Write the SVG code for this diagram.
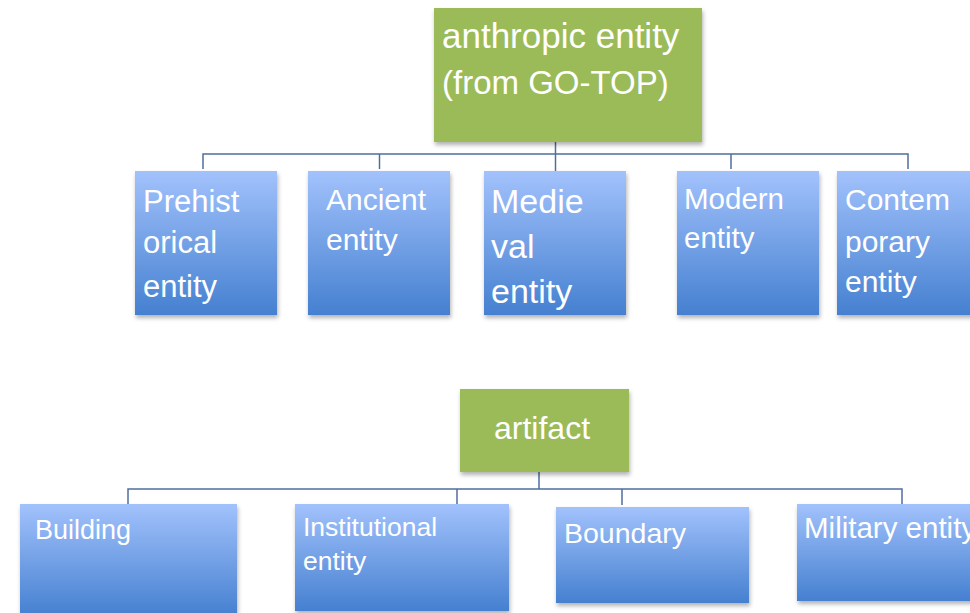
<svg xmlns="http://www.w3.org/2000/svg" width="970" height="613" viewBox="0 0 970 613">
<defs>
<linearGradient id="blue" x1="0" y1="0" x2="0" y2="1">
<stop offset="0" stop-color="#a2c2fc"/>
<stop offset="1" stop-color="#4580d0"/>
</linearGradient>
<filter id="sh" x="-10%" y="-10%" width="120%" height="130%">
<feDropShadow dx="1" dy="3" stdDeviation="2" flood-color="#000" flood-opacity="0.3"/>
</filter>
</defs>
<style>
.g{fill:#9bbb59;filter:url(#sh)}
.b{fill:url(#blue);filter:url(#sh)}
text{fill:#fff;font-family:"Liberation Sans",Arial,sans-serif}
.c{fill:none;stroke:#4f6f9f;stroke-width:1.5}
</style>
<g id="connectors">
<path class="c" d="M555.5 142V154M203 169V154H908V169M379.5 154V169M555.5 154V171M731 154V169"/>
<path class="c" d="M539 472V489M128 504V489H902V504M457 489V504M622 489V505"/>
</g>
<g id="anthropic">
<rect class="g" x="434" y="8" width="268" height="134"/>
<text x="442" y="48" font-size="35">anthropic entity</text>
<text x="442" y="94" font-size="33">(from GO-TOP)</text>
</g>
<g id="prehistorical">
<rect class="b" x="135" y="171" width="142" height="144"/>
<text x="143" y="212" font-size="31">Prehist</text>
<text x="143" y="253" font-size="31">orical</text>
<text x="143" y="297" font-size="31">entity</text>
</g>
<g id="ancient">
<rect class="b" x="308" y="171" width="142" height="144"/>
<text x="326" y="210" font-size="30">Ancient</text>
<text x="326" y="250" font-size="30">entity</text>
</g>
<g id="medieval">
<rect class="b" x="484" y="171" width="142" height="144"/>
<text x="491" y="213" font-size="34">Medie</text>
<text x="491" y="258" font-size="34">val</text>
<text x="491" y="303" font-size="34">entity</text>
</g>
<g id="modern">
<rect class="b" x="677" y="171" width="142" height="144"/>
<text x="684" y="209" font-size="29.5">Modern</text>
<text x="684" y="248" font-size="29.5">entity</text>
</g>
<g id="contemporary">
<rect class="b" x="837" y="171" width="142" height="144"/>
<text x="845" y="210" font-size="30">Contem</text>
<text x="845" y="252" font-size="30">porary</text>
<text x="845" y="292" font-size="30">entity</text>
</g>
<g id="artifact">
<rect class="g" x="460" y="389" width="169" height="83"/>
<text x="494" y="439" font-size="32">artifact</text>
</g>
<g id="building">
<rect class="b" x="20" y="504" width="217" height="112"/>
<text x="35" y="539" font-size="27">Building</text>
</g>
<g id="institutional">
<rect class="b" x="295" y="504" width="214" height="107"/>
<text x="303" y="536" font-size="26.5">Institutional</text>
<text x="303" y="570" font-size="26.5">entity</text>
</g>
<g id="boundary">
<rect class="b" x="556" y="507" width="193" height="96"/>
<text x="564" y="543" font-size="28.5">Boundary</text>
</g>
<g id="military">
<rect class="b" x="797" y="504" width="210" height="97"/>
<text x="804" y="538" font-size="29.5">Military entity</text>
</g>
</svg>
